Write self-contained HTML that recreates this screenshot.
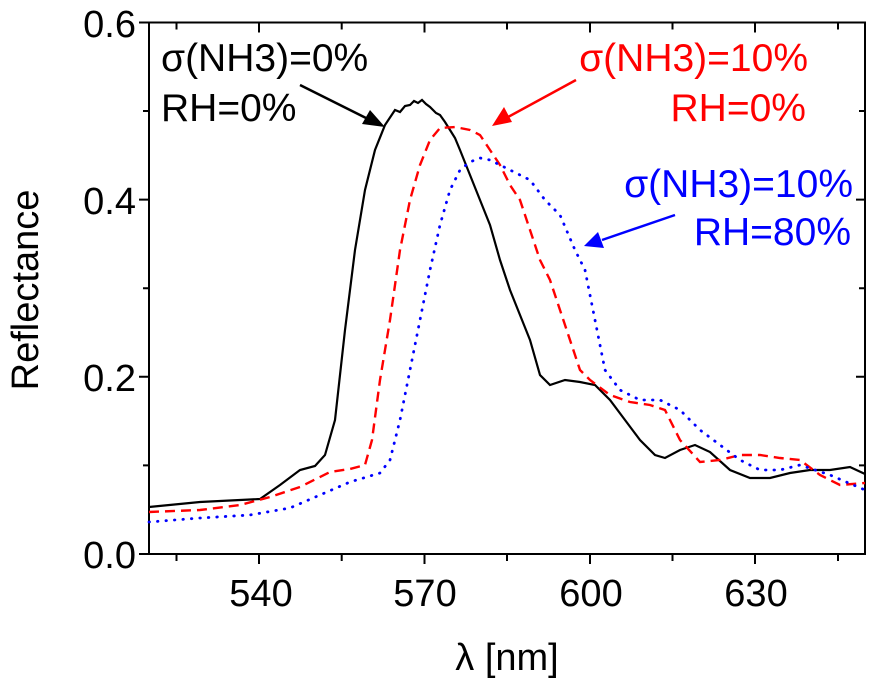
<!DOCTYPE html>
<html><head><meta charset="utf-8"><style>body{margin:0;background:#fff}svg{display:block}text{font-family:"Liberation Sans",sans-serif}</style></head><body>
<svg width="884" height="684" viewBox="0 0 884 684" xmlns="http://www.w3.org/2000/svg">
<g fill="none" stroke="#000" stroke-width="2">
<rect x="149" y="22.5" width="716" height="531.5"/>
<path d="M176.5,554v7M259,554v10M341.7,554v7M424.5,554v10M507,554v7M590,554v10M672.5,554v7M755,554v10M838,554v7"/>
<path d="M176.5,22.5v7M259,22.5v10M341.7,22.5v7M424.5,22.5v10M507,22.5v7M590,22.5v10M672.5,22.5v7M755,22.5v10M838,22.5v7"/>
<path d="M149,554h-10M149,465.4h-6M149,376.8h-10M149,288.2h-6M149,199.6h-10M149,111h-6M149,22.5h-10"/>
<path d="M865,465.4h-6M865,376.8h-9M865,288.2h-6M865,199.6h-9M865,111h-6"/>
</g>
<g font-size="38" fill="#000">
<text x="136" y="568" text-anchor="end">0.0</text>
<text x="136" y="391" text-anchor="end">0.2</text>
<text x="136" y="214" text-anchor="end">0.4</text>
<text x="136" y="37" text-anchor="end">0.6</text>
<text x="261" y="606" text-anchor="middle">540</text>
<text x="425" y="606" text-anchor="middle">570</text>
<text x="591" y="606" text-anchor="middle">600</text>
<text x="756" y="606" text-anchor="middle">630</text>
<text x="507" y="670" text-anchor="middle">λ [nm]</text>
<text transform="translate(38,290) rotate(-90)" text-anchor="middle">Reflectance</text>
</g>
<polyline fill="none" stroke="#000" stroke-width="2.2" points="149,507 200,502 260,499 280,485 300,470 315,466 325,455 335,420 345,330 355,250 365,190 375,150 385,125 395,110 400,112 405,106 410,105 414,101 418,103 422,100 426,104 430,107 436,113 440,115 445,122 450,130 455,138 460,150 470,175 480,200 490,225 500,260 510,290 520,315 530,340 540,375 550,385 565,380 580,382 595,385 610,400 625,420 640,440 655,455 665,458 680,450 695,445 710,452 730,470 750,478 770,478 790,473 810,470 830,470 850,467 865,474"/>
<polyline fill="none" stroke="#f00" stroke-width="2.4" stroke-dasharray="10,6" points="149,512 200,510 240,505 270,497 300,487 330,472 350,469 365,465 372,440 380,380 390,320 400,250 410,200 420,165 430,140 440,128 455,127 470,130 480,135 490,150 500,165 510,185 520,200 530,230 540,260 550,280 560,310 570,340 580,370 590,380 610,395 630,402 650,405 665,410 680,440 700,462 720,460 740,455 760,455 780,458 800,460 820,475 840,485 865,483"/>
<polyline fill="none" stroke="#00f" stroke-width="2.8" stroke-dasharray="0.5,8" stroke-linecap="round" points="149,522 200,518 250,515 290,508 320,495 350,482 380,473 390,460 400,420 410,370 420,320 430,270 440,225 450,190 460,170 470,162 480,158 490,160 500,165 510,170 530,180 545,200 560,215 575,250 585,270 595,320 605,370 620,390 640,400 660,400 680,410 700,430 720,445 740,460 760,470 780,470 800,465 830,475 865,490"/>
<g font-size="39">
<text x="161" y="71" fill="#000">σ(NH3)=0%</text>
<text x="161" y="121" fill="#000">RH=0%</text>
<text x="808" y="71" fill="#f00" text-anchor="end">σ(NH3)=10%</text>
<text x="806" y="121" fill="#f00" text-anchor="end">RH=0%</text>
<text x="853" y="197" fill="#00f" text-anchor="end">σ(NH3)=10%</text>
<text x="851" y="245" fill="#00f" text-anchor="end">RH=80%</text>
</g>
<g stroke-width="2.5">
<line x1="300" y1="85" x2="368" y2="119" stroke="#000"/>
<polygon points="385,127 362,124 370,110" fill="#000"/>
<line x1="576" y1="80" x2="508" y2="117" stroke="#f00"/>
<polygon points="492,126 504,107 512,122" fill="#f00"/>
<line x1="675" y1="215" x2="602" y2="240" stroke="#00f"/>
<polygon points="584,246 598,232 604,248" fill="#00f"/>
</g>
</svg>
</body></html>
